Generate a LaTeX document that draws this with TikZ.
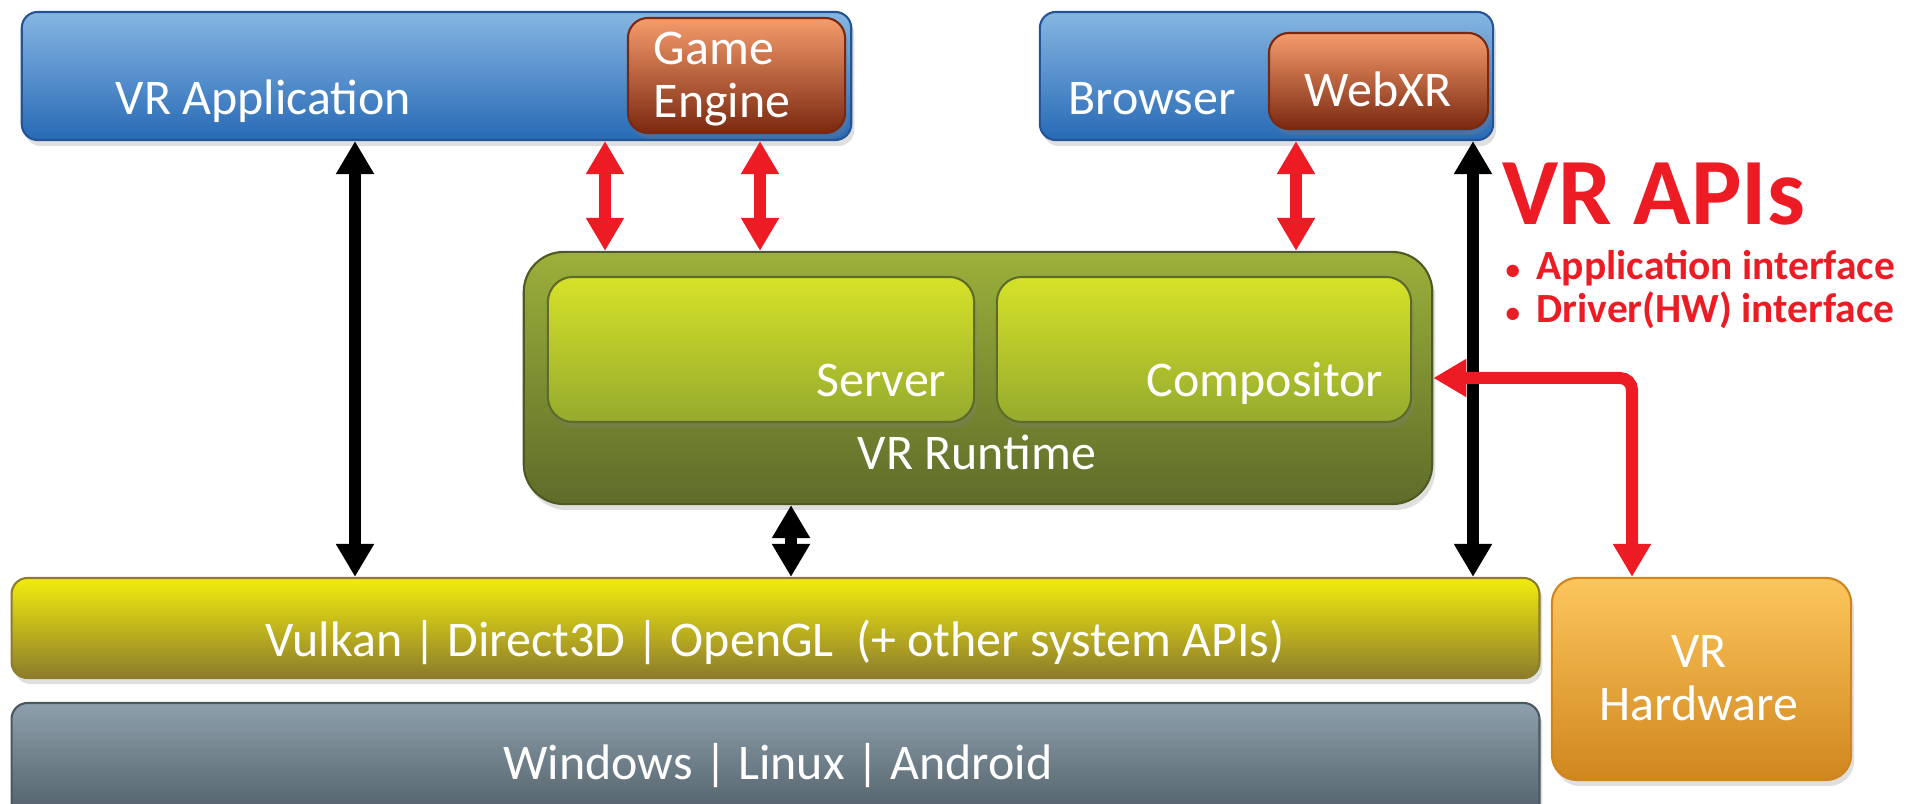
\documentclass[tikz,border=0pt]{standalone}
\usepackage{fontspec}
\setmainfont{Carlito}
\usepackage{xcolor}
\usepackage{tikz}
\usetikzlibrary{arrows.meta}
\usetikzlibrary{shadows}
\definecolor{apired}{RGB}{237,28,36}
\definecolor{appTop}{RGB}{134,182,226}
\definecolor{appBot}{RGB}{40,106,182}
\definecolor{appLine}{RGB}{36,84,150}
\definecolor{engTop}{RGB}{246,156,108}
\definecolor{engBot}{RGB}{122,40,16}
\definecolor{rtTop}{RGB}{156,176,58}
\definecolor{rtBot}{RGB}{94,108,42}
\definecolor{rtLine}{RGB}{78,90,34}
\definecolor{inTop}{RGB}{214,226,40}
\definecolor{inBot}{RGB}{150,170,46}
\definecolor{gfxTop}{RGB}{242,236,14}
\definecolor{gfxBot}{RGB}{140,124,44}
\definecolor{osTop}{RGB}{142,160,172}
\definecolor{osBot}{RGB}{74,88,96}
\definecolor{hwTop}{RGB}{252,198,92}
\definecolor{hwBot}{RGB}{208,134,30}

\begin{document}
\begin{tikzpicture}[x=0.01cm, y=-0.01cm,
    box/.style={rounded corners=0.16cm, draw=#1, line width=0.6pt,
        drop shadow={opacity=0.25, shadow xshift=0.03cm, shadow yshift=-0.06cm}},
    lbl/.style={text=white, inner sep=0pt, font=\fontsize{14.2}{15.1}\selectfont},
    bigtip/.tip={Triangle[width=0.36cm,length=0.33cm]},
    blk/.style={line width=0.12cm, black, bigtip-bigtip},
    red/.style={line width=0.12cm, apired, bigtip-bigtip}]

    \path[use as bounding box, clip] (0,0) rectangle (1909,804);

    % Applications
    \node[box=appLine, top color=appTop, bottom color=appBot,
        minimum width=8.29cm, minimum height=1.28cm] (app) at (436.5,76) {};
    \node[box=engBot, top color=engTop, bottom color=engBot, rounded corners=0.2cm,
        minimum width=2.17cm, minimum height=1.15cm] (engine) at (736.5,75.5) {};
    \node[box=appLine, top color=appTop, bottom color=appBot,
        minimum width=4.53cm, minimum height=1.28cm] (browser) at (1266.5,76) {};
    \node[box=engBot, top color=engTop, bottom color=engBot, rounded corners=0.2cm,
        minimum width=2.19cm, minimum height=0.96cm] (webxr) at (1378.5,81) {};

    \node[lbl, anchor=base west] (appText) at (115,115) {VR Application};
    \node[lbl, anchor=west, align=left] (engineText) at (653,79) {Game\\Engine};
    \node[lbl, anchor=base west] (browserText) at (1068,115) {Browser};
    \node[lbl, anchor=base] (webxrText) at (1378,107) {WebXR};

    % VR Runtime
    \node[box=rtLine, top color=rtTop, bottom color=rtBot, rounded corners=0.4cm,
        minimum width=9.08cm, minimum height=2.52cm] (runtime) at (978,378) {};
    \node[box=rtBot, top color=inTop, bottom color=inBot, rounded corners=0.25cm,
        minimum width=4.26cm, minimum height=1.45cm] (server) at (761,349.5) {};
    \node[box=rtBot, top color=inTop, bottom color=inBot, rounded corners=0.25cm,
        minimum width=4.14cm, minimum height=1.45cm] (compositor) at (1204,349.5) {};

    \node[lbl, anchor=base east] (serverText) at (947,397) {Server};
    \node[lbl, anchor=base east] (compositorText) at (1384,397) {Compositor};
    \node[lbl, anchor=base] (runtimeText) at (977,470) {VR Runtime};

    % System layers
    \node[box=gfxBot, top color=gfxTop, bottom color=gfxBot,
        minimum width=15.27cm, minimum height=1.00cm] (gfx) at (775.5,628) {};
    \node[box=osBot, top color=osTop, bottom color=osBot,
        minimum width=15.27cm, minimum height=1.27cm] (os) at (775.5,766.5) {};
    \node[box=hwBot, top color=hwTop, bottom color=hwBot, rounded corners=0.25cm,
        minimum width=2.99cm, minimum height=2.02cm] (hw) at (1701.5,679) {};

    \node[lbl, anchor=base] (gfxText) at (775,657)
        {Vulkan | Direct3D | OpenGL~~(+ other system APIs)};
    \node[lbl, anchor=base] (osText) at (778,780) {Windows | Linux | Android};
    \node[lbl, align=center] (hwText) at (1699,678) {VR\\Hardware};

    % VR APIs
    \node[anchor=base west, inner sep=0pt, text=apired,
        font=\fontsize{27}{30}\selectfont\bfseries] (apis) at (1502,225) {VR APIs};
    \node[anchor=base west, inner sep=0pt, text=apired,
        font=\fontsize{11.8}{13}\selectfont\bfseries] (api1) at (1505,280)
        {\makebox[0.31cm][l]{\scalebox{0.7}{\textbullet}}Application interface};
    \node[anchor=base west, inner sep=0pt, text=apired,
        font=\fontsize{11.8}{13}\selectfont\bfseries] (api2) at (1505,323)
        {\makebox[0.31cm][l]{\scalebox{0.7}{\textbullet}}Driver(HW) interface};

    % Arrow positions
    \coordinate (xa) at (355,0);  % VR Application
    \coordinate (xb) at (605,0);  % app to runtime
    \coordinate (xc) at (760,0);  % engine to runtime
    \coordinate (xd) at (1296,0); % WebXR to runtime
    \coordinate (xe) at (1473,0); % browser
    \coordinate (xf) at (791,0);  % runtime
    \coordinate (xg) at (1632,0); % hardware

    % Black arrows
    \draw[blk] (app.south -| xa) -- (gfx.north -| xa);
    \draw[blk] (browser.south -| xe) -- (gfx.north -| xe);
    \draw[blk] (runtime.south -| xf) -- (gfx.north -| xf);

    % Red arrows
    \draw[red] (app.south -| xb) -- (runtime.north -| xb);
    \draw[red] (app.south -| xc) -- (runtime.north -| xc);
    \draw[red] (browser.south -| xd) -- (runtime.north -| xd);
    \draw[red, rounded corners=0.12cm] (runtime.east) -| (hw.north -| xg);

\end{tikzpicture}
\end{document}
